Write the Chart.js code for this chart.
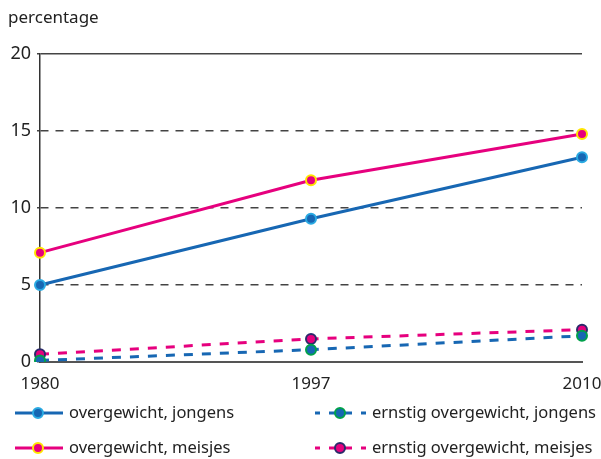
<!DOCTYPE html>
<html>
<head>
<meta charset="utf-8">
<script src="https://cdn.jsdelivr.net/npm/chart.js@4"></script>
<style>
  html, body { margin: 0; padding: 0; background: #fff; }
  #wrap { width: 601px; height: 459px; }
</style>
</head>
<body>
<div id="wrap"><canvas id="chart" width="601" height="459"></canvas></div>
<script>
// data
const years = ['1980', '1997', '2010'];
const overJongens = [5.0, 9.3, 13.3];
const overMeisjes = [7.1, 11.8, 14.8];
const ernstigJongens = [0.1, 0.8, 1.7];
const ernstigMeisjes = [0.5, 1.5, 2.1];
const yTicks = [0, 5, 10, 15, 20];

const BLUE = '#1767b3';
const PINK = '#e6007e';
const FONT = '"Noto Sans", "Open Sans", sans-serif';

// draws the y title and the two-column legend
const extras = {
    id: 'extras',
    afterDraw(chart) {
        const c = chart.ctx;
        c.save();
        c.fillStyle = '#222';
        c.font = '17px ' + FONT;
        c.textBaseline = 'middle';
        c.textAlign = 'left';
        c.fillText('percentage', 8, 18);

        c.font = '16.5px ' + FONT;
        const spots = [
            { x: 15, y: 413 }, { x: 15, y: 448 },
            { x: 315, y: 413 }, { x: 315, y: 448 }
        ];
        chart.data.datasets.forEach((ds, i) => {
            const p = spots[i];
            c.strokeStyle = ds.borderColor;
            c.lineWidth = 3;
            c.setLineDash([]);
            c.beginPath();
            if (ds.borderDash) {
                // short dash, long middle part, short dash like the reference
                c.moveTo(p.x, p.y); c.lineTo(p.x + 5, p.y);
                c.moveTo(p.x + 14, p.y); c.lineTo(p.x + 37, p.y);
                c.moveTo(p.x + 46, p.y); c.lineTo(p.x + 51, p.y);
            } else {
                c.moveTo(p.x, p.y); c.lineTo(p.x + 48, p.y);
            }
            c.stroke();
            const mx = ds.borderDash ? p.x + 25 : p.x + 23;
            c.beginPath();
            c.arc(mx, p.y, 5, 0, Math.PI * 2);
            c.fillStyle = ds.pointBackgroundColor;
            c.fill();
            c.lineWidth = 2;
            c.strokeStyle = ds.pointBorderColor;
            c.stroke();
            c.fillStyle = '#222';
            c.fillText(ds.label, ds.borderDash ? p.x + 57 : p.x + 54, p.y);
        });
        c.restore();
    }
};

new Chart(document.getElementById('chart').getContext('2d'), {
    type: 'line',
    data: {
        labels: years,
        datasets: [{
            label: 'overgewicht, jongens',
            data: overJongens,
            borderColor: BLUE,
            pointBackgroundColor: BLUE,
            pointBorderColor: '#2aaae2'
        }, {
            label: 'overgewicht, meisjes',
            data: overMeisjes,
            borderColor: PINK,
            pointBackgroundColor: PINK,
            pointBorderColor: '#ffe500'
        }, {
            label: 'ernstig overgewicht, jongens',
            data: ernstigJongens,
            borderColor: BLUE,
            borderDash: [9, 9],
            pointBackgroundColor: BLUE,
            pointBorderColor: '#00a14b'
        }, {
            label: 'ernstig overgewicht, meisjes',
            data: ernstigMeisjes,
            borderColor: PINK,
            borderDash: [9, 9],
            pointBackgroundColor: PINK,
            pointBorderColor: '#2b2a6b'
        }]
    },
    options: {
        responsive: false,
        animation: false,
        layout: { padding: { top: 54, right: 19, bottom: 67, left: 0 } },
        elements: {
            line: { borderWidth: 3, tension: 0, fill: false },
            point: { radius: 5, borderWidth: 2, hoverRadius: 5 }
        },
        plugins: {
            legend: { display: false },
            tooltip: { enabled: false }
        },
        scales: {
            x: {
                offset: false,
                grid: { display: false, drawTicks: false },
                border: { display: true, color: '#555', width: 2 },
                ticks: { color: '#222', font: { family: FONT, size: 17 }, padding: 12, maxRotation: 0 },
                afterFit: s => { s.height = 30; s.paddingLeft = 0; s.paddingRight = 0; }
            },
            y: {
                min: 0,
                max: 20,
                afterBuildTicks: s => { s.ticks = yTicks.map(v => ({ value: v })); },
                grid: {
                    color: '#444',
                    lineWidth: 1.5,
                    drawTicks: true,
                    tickLength: 3
                },
                border: {
                    display: true,
                    color: '#333',
                    width: 1.5,
                    dash: ctx => (ctx.tick && ctx.tick.value > 0 && ctx.tick.value < 20) ? [8, 7] : []
                },
                ticks: { color: '#222', font: { family: FONT, size: 18 }, padding: 6 },
                afterFit: s => { s.width = 40; }
            }
        }
    },
    plugins: [extras]
});
</script>
</body>
</html>
